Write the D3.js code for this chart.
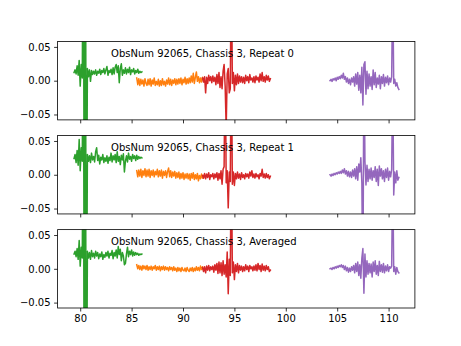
<!DOCTYPE html>
<html><head><meta charset="utf-8">
<script src="https://cdn.jsdelivr.net/npm/d3@7"></script>
<style>
html,body{margin:0;padding:0;background:#fff;}
svg{display:block;}
text{font-family:"DejaVu Sans",sans-serif;}
</style></head>
<body>
<svg id="chart" width="461" height="346"></svg>
<script>
// ---------- data ----------
const panelTitles = ["ObsNum 92065, Chassis 3, Repeat 0", "ObsNum 92065, Chassis 3, Repeat 1", "ObsNum 92065, Chassis 3, Averaged"];
const xTicks = [80, 85, 90, 95, 100, 105, 110];
const yTicks = [0.05, 0.00, -0.05];
const yTickLabels = ["0.05", "0.00", "\u22120.05"];
const seriesColors = ["#2ca02c", "#ff7f0e", "#d62728", "#9467bd"];

const greenX = [79.4,79.5,79.6,79.7,79.8,79.9,80.0,80.1,80.2,80.3,
  80.4,80.5,80.6,80.7,80.8,80.9,81.0,81.1,81.2,81.3,
  81.4,81.5,81.6,81.7,81.8,81.9,82.0,82.1,82.2,82.3,
  82.4,82.5,82.6,82.7,82.8,82.9,83.0,83.1,83.2,83.3,
  83.4,83.5,83.6,83.7,83.8,83.9,84.0,84.1,84.2,84.3,
  84.4,84.5,84.6,84.7,84.8,84.9,85.0,85.1,85.2,85.3,
  85.4,85.5,85.6,85.7,85.8,85.9,86.0];
const orangeX = [85.5,85.6,85.7,85.8,85.9,86.0,86.1,86.2,86.3,86.4,
  86.5,86.6,86.7,86.8,86.9,87.0,87.1,87.2,87.3,87.4,
  87.5,87.6,87.7,87.8,87.9,88.0,88.1,88.2,88.3,88.4,
  88.5,88.6,88.7,88.8,88.9,89.0,89.1,89.2,89.3,89.4,
  89.5,89.6,89.7,89.8,89.9,90.0,90.1,90.2,90.3,90.4,
  90.5,90.6,90.7,90.8,90.9,91.0,91.1,91.2,91.3,91.4,
  91.5,91.6,91.7,91.8,91.9,92.0];
const redX = [91.9,92.0,92.1,92.2,92.3,92.4,92.5,92.6,92.7,92.8,
  92.9,93.0,93.1,93.2,93.3,93.4,93.5,93.6,93.7,93.8,
  93.9,94.0,94.1,94.2,94.3,94.4,94.5,94.6,94.7,94.8,
  94.9,95.0,95.1,95.2,95.3,95.4,95.5,95.6,95.7,95.8,
  95.9,96.0,96.1,96.2,96.3,96.4,96.5,96.6,96.7,96.8,
  96.9,97.0,97.1,97.2,97.3,97.4,97.5,97.6,97.7,97.8,
  97.9,98.0,98.1,98.2,98.3,98.4,98.5];
const purpleX = [104.3,104.4,104.5,104.6,104.7,104.8,104.9,105.0,105.1,105.2,
  105.3,105.4,105.5,105.6,105.7,105.8,105.9,106.0,106.1,106.2,
  106.3,106.4,106.5,106.6,106.7,106.8,106.9,107.0,107.1,107.2,
  107.3,107.4,107.5,107.6,107.7,107.8,107.9,108.0,108.1,108.2,
  108.3,108.4,108.5,108.6,108.7,108.8,108.9,109.0,109.1,109.2,
  109.3,109.4,109.5,109.6,109.7,109.8,109.9,110.0,110.1,110.2,
  110.3,110.4,110.5,110.6,110.7,110.8,110.9,111.0];

// Repeat 0
const green0 = [0.012,0.016,0.010,0.022,0.008,0.030,-0.008,0.024,0.004,0.30,
  -0.30,0.30,-0.30,0.018,0.006,0.016,-0.001,0.015,0.009,0.014,
  0.010,0.016,0.008,0.014,0.011,0.017,0.009,0.015,0.012,0.018,
  0.010,0.016,0.021,0.008,0.015,0.012,0.017,0.009,0.019,0.010,
  0.020,0.024,0.012,0.022,-0.003,0.018,0.025,0.008,0.016,0.011,
  0.019,0.010,0.017,0.012,0.020,0.009,0.016,0.013,0.018,0.010,
  0.015,0.012,0.017,0.011,0.014,0.012,0.013];
const orange0 = [0.004,-0.006,0.003,-0.007,0.002,-0.005,0.001,-0.008,0.003,-0.004,
  -0.007,0.002,-0.006,0.003,-0.008,0.001,-0.005,0.004,-0.007,-0.001,
  -0.006,0.002,-0.008,0.000,-0.007,0.003,-0.006,-0.001,-0.008,0.001,
  -0.005,0.004,-0.006,0.002,-0.007,0.001,-0.004,0.003,-0.006,0.002,
  -0.005,0.003,-0.004,0.004,-0.006,0.002,-0.003,0.005,-0.005,0.003,
  -0.004,0.004,-0.003,0.007,-0.002,0.011,-0.004,0.005,0.013,-0.001,
  0.006,-0.003,0.004,-0.002,0.005,0.001];
const red0 = [0.004,-0.002,0.006,-0.018,0.005,-0.004,0.008,0.000,0.006,-0.003,
  0.007,-0.001,0.005,-0.006,0.009,-0.004,0.012,-0.010,0.006,-0.012,
  0.014,0.024,-0.008,-0.070,0.010,0.018,-0.018,-0.012,0.200,-0.004,
  0.012,-0.015,0.008,-0.006,0.010,-0.004,0.007,-0.002,0.006,-0.003,
  0.005,-0.004,0.008,0.000,0.006,-0.003,0.009,0.001,0.004,-0.002,
  0.006,-0.003,0.007,0.001,0.005,-0.002,0.010,0.000,0.012,-0.001,
  0.006,-0.002,0.008,0.001,0.007,-0.001,0.003];
const purple0 = [0.000,0.002,-0.001,0.003,0.001,0.004,0.000,0.005,0.002,0.006,
  0.003,0.008,0.004,0.011,0.002,0.006,-0.002,0.004,-0.004,0.002,
  -0.006,0.004,-0.002,0.006,-0.008,0.010,-0.005,0.012,-0.014,0.008,
  -0.018,0.020,-0.036,0.024,0.028,-0.020,0.014,-0.012,0.010,-0.008,
  0.006,-0.013,0.016,-0.006,0.012,-0.010,0.004,-0.005,0.008,-0.012,
  0.006,-0.004,0.009,-0.008,0.005,-0.003,0.007,-0.006,0.004,-0.002,
  0.006,0.150,-0.004,0.002,-0.008,-0.003,-0.010,-0.013];

// Repeat 1
const green1 = [0.024,0.030,0.018,0.036,0.014,0.052,0.006,0.040,0.020,0.30,
  -0.30,0.30,-0.30,0.030,0.020,0.028,0.018,0.032,0.022,0.027,
  0.019,0.034,0.040,0.021,0.029,0.016,0.026,0.022,0.030,0.018,
  0.025,0.020,0.028,0.017,0.026,0.021,0.032,0.019,0.028,0.022,
  0.030,0.018,0.034,0.020,0.027,0.015,0.029,0.022,0.031,0.004,
  0.020,0.028,0.019,0.032,0.023,0.027,0.020,0.030,0.024,0.028,
  0.021,0.029,0.023,0.027,0.024,0.026,0.025];
const orange1 = [0.006,-0.003,0.007,-0.002,0.008,-0.004,0.006,-0.001,0.009,-0.003,
  0.007,-0.002,0.008,-0.004,0.006,-0.001,0.007,-0.003,0.005,0.000,
  0.008,-0.003,0.006,-0.002,0.007,-0.005,0.005,-0.001,0.006,-0.004,
  0.005,0.010,-0.003,0.006,-0.004,0.004,-0.002,0.005,-0.005,0.003,
  -0.004,0.004,-0.006,0.002,-0.005,0.003,-0.007,0.001,-0.005,0.002,
  -0.006,0.001,-0.008,0.002,-0.005,0.003,-0.007,0.000,-0.006,0.002,
  -0.009,-0.001,-0.006,0.001,-0.005,-0.001];
const red1 = [-0.001,-0.005,0.002,-0.006,0.001,-0.004,0.003,-0.007,0.000,-0.003,
  0.002,-0.006,0.001,-0.004,0.003,-0.008,0.002,-0.006,0.006,-0.014,
  0.008,0.012,0.200,-0.012,0.006,-0.049,0.004,-0.010,0.200,-0.014,
  0.004,-0.016,0.002,-0.006,0.004,-0.005,0.001,-0.007,0.003,-0.004,
  0.000,-0.006,0.002,-0.003,0.001,-0.005,0.004,-0.002,0.006,-0.004,
  0.001,-0.005,0.002,-0.003,0.000,-0.006,0.002,-0.002,0.008,-0.004,
  0.001,-0.005,0.002,-0.004,0.000,-0.006,-0.002];
const purple1 = [0.000,-0.002,0.001,-0.001,0.002,0.000,0.003,0.001,0.004,0.002,
  0.005,0.002,0.007,0.003,0.009,0.001,0.006,-0.002,0.005,-0.003,
  0.004,-0.004,0.007,-0.002,0.009,-0.006,0.012,-0.008,0.016,0.004,
  0.025,-0.012,-0.200,0.200,0.020,-0.015,0.014,-0.010,0.008,-0.006,
  0.010,-0.008,0.006,-0.004,0.012,-0.010,0.008,-0.016,0.013,-0.002,
  0.009,-0.006,0.006,-0.010,0.008,-0.004,0.010,-0.008,0.005,-0.003,
  0.008,0.150,-0.030,0.004,-0.012,0.006,-0.008,-0.004];

// Averaged
const green2 = [0.022,0.026,0.018,0.030,0.014,0.042,0.004,0.032,0.016,0.30,
  -0.30,0.30,-0.30,0.026,0.016,0.024,0.014,0.027,0.018,0.023,
  0.016,0.026,0.019,0.024,0.015,0.022,0.018,0.025,0.014,0.021,
  0.017,0.024,0.019,0.026,0.016,0.023,0.020,0.027,0.015,0.024,
  0.019,0.028,0.016,0.033,0.021,0.029,0.012,0.024,0.019,0.006,
  0.008,0.022,0.032,0.018,0.026,0.021,0.028,0.019,0.025,0.020,
  0.024,0.021,0.023,0.020,0.022,0.021,0.022];
const orange2 = [0.006,0.000,0.005,-0.001,0.004,-0.002,0.005,0.000,0.004,-0.001,
  0.005,-0.002,0.003,-0.001,0.004,-0.002,0.003,0.000,0.005,-0.002,
  0.003,-0.001,0.004,-0.003,0.003,-0.001,0.004,-0.002,0.003,-0.001,
  0.002,-0.003,0.003,-0.001,0.002,-0.003,0.003,-0.002,0.001,-0.004,
  0.002,-0.003,0.001,-0.004,0.002,-0.002,-0.003,0.001,-0.004,0.002,
  -0.002,-0.004,0.001,-0.003,0.002,-0.004,0.001,-0.003,0.003,-0.002,
  0.002,-0.003,0.004,-0.001,0.003,-0.002];
const red2 = [0.002,-0.004,0.003,-0.006,0.004,-0.002,0.005,-0.003,0.003,-0.001,
  0.004,-0.005,0.006,-0.002,0.008,-0.007,0.010,-0.006,0.009,-0.010,
  0.012,-0.008,0.006,-0.012,0.025,-0.037,0.014,-0.010,0.200,-0.006,
  0.010,-0.016,0.006,-0.004,0.008,-0.006,0.005,-0.002,0.004,-0.004,
  0.003,-0.003,0.006,-0.001,0.004,-0.004,0.005,0.000,0.003,-0.003,
  0.004,-0.002,0.006,-0.003,0.008,-0.001,0.005,-0.004,0.007,-0.002,
  0.004,-0.003,0.005,-0.001,0.003,-0.004,-0.002];
const purple2 = [0.000,0.001,-0.001,0.002,0.000,0.003,0.001,0.004,0.002,0.005,
  0.003,0.006,0.002,0.005,-0.001,0.004,-0.003,0.002,-0.005,0.001,
  -0.004,0.003,-0.002,0.005,-0.006,0.008,-0.004,0.010,-0.010,0.006,
  -0.014,0.016,0.030,-0.036,0.022,-0.012,0.012,-0.008,0.008,-0.006,
  0.007,-0.012,0.010,-0.004,0.012,-0.008,0.005,-0.010,0.011,-0.004,
  0.006,-0.005,0.008,-0.006,0.004,-0.003,0.006,-0.004,0.003,0.001,
  0.004,0.150,-0.004,0.003,-0.008,0.002,-0.004,-0.006];

const panelSeries = [
  [green0, orange0, red0, purple0],
  [green1, orange1, red1, purple1],
  [green2, orange2, red2, purple2]
];
const seriesX = [greenX, orangeX, redX, purpleX];

// ---------- layout ----------
const mLeft = 57.6, mRight = 414.9, mTop = 41.5, mBottom = 308.0;
const nP = 3, hspace = 0.2;
const ph = (mBottom - mTop) / (nP + (nP - 1) * hspace);
const gap = ph * hspace;

const svg = d3.select("#chart");
const x = d3.scaleLinear().domain([77.8, 112.56]).range([mLeft, mRight]);

panelSeries.forEach((series, pi) => {
  const py0 = mTop + pi * (ph + gap);
  const py1 = py0 + ph;
  const y = d3.scaleLinear().domain([-0.058, 0.058]).range([py1, py0]);
  const g = svg.append("g");

  const clipId = "clip" + pi;
  svg.append("clipPath").attr("id", clipId)
    .append("rect").attr("x", mLeft).attr("y", py0).attr("width", mRight - mLeft).attr("height", ph);

  const line = d3.line().x(d => x(d[0])).y(d => y(d[1]));
  const lg = g.append("g").attr("clip-path", `url(#${clipId})`);
  series.forEach((ys, si) => {
    lg.append("path")
      .datum(d3.zip(seriesX[si], ys))
      .attr("d", line)
      .attr("fill", "none")
      .attr("stroke", seriesColors[si])
      .attr("stroke-width", 1.5)
      .attr("stroke-linejoin", "round")
      .attr("stroke-linecap", "square");
  });

  g.append("text")
    .attr("x", x(83)).attr("y", y(0.035))
    .attr("font-size", 10).attr("fill", "#000")
    .text(panelTitles[pi]);

  const xa = d3.axisBottom(x).tickValues(xTicks).tickSize(3.5).tickPadding(3.5)
    .tickFormat(pi === nP - 1 ? d3.format("d") : () => "");
  const xg = g.append("g").attr("transform", `translate(0,${py1})`).call(xa);
  const ya = d3.axisLeft(y).tickValues(yTicks).tickSize(3.5).tickPadding(3.5)
    .tickFormat((d, i) => yTickLabels[i]);
  const yg = g.append("g").attr("transform", `translate(${mLeft},0)`).call(ya);
  [xg, yg].forEach(a => {
    a.select(".domain").remove();
    a.selectAll(".tick line").attr("stroke", "#000").attr("stroke-width", 0.8);
    a.selectAll(".tick text").attr("font-size", 10).attr("fill", "#000")
      .attr("font-family", "DejaVu Sans, sans-serif");
  });

  g.append("rect").attr("x", mLeft).attr("y", py0).attr("width", mRight - mLeft).attr("height", ph)
    .attr("fill", "none").attr("stroke", "#000").attr("stroke-width", 0.8);
});
</script>
</body></html>
